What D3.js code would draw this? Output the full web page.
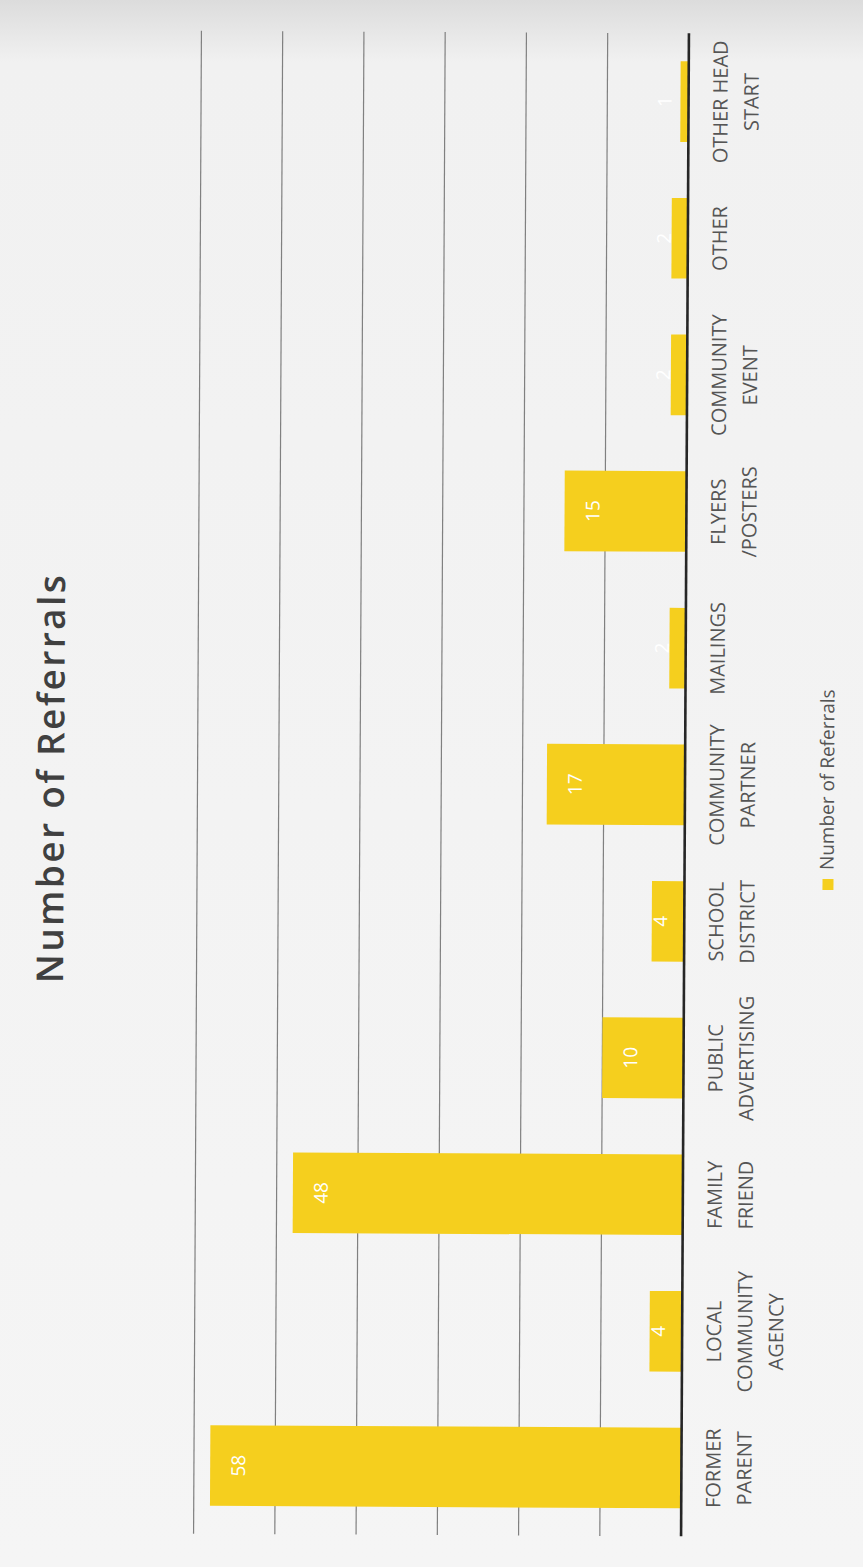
<!DOCTYPE html>
<html>
<head>
<meta charset="utf-8">
<script src="https://cdn.jsdelivr.net/npm/d3@7"></script>
<style>
  body { margin: 0; background: #f4f4f4; }
  svg { display: block; }
</style>
</head>
<body>
<svg width="863" height="1567"></svg>
<script>
// chart data
var categories = [
    ["FORMER", "PARENT"],
    ["LOCAL", "COMMUNITY", "AGENCY"],
    ["FAMILY", "FRIEND"],
    ["PUBLIC", "ADVERTISING"],
    ["SCHOOL", "DISTRICT"],
    ["COMMUNITY", "PARTNER"],
    ["MAILINGS"],
    ["FLYERS", "/POSTERS"],
    ["COMMUNITY", "EVENT"],
    ["OTHER"],
    ["OTHER HEAD", "START"]
];
var referrals = [58, 4, 48, 10, 4, 17, 2, 15, 2, 2, 1];
var yTicks = [0, 10, 20, 30, 40, 50, 60];
var seriesName = "Number of Referrals";
var title = "Number of Referrals";

var svg = d3.select("svg"),
    width = +svg.attr("width"),
    height = +svg.attr("height");

// paper background, a bit darker at the top edge
var defs = svg.append("defs");
var grad = defs.append("linearGradient")
    .attr("id", "paper")
    .attr("x1", 0).attr("y1", 0).attr("x2", 0).attr("y2", 1);
grad.append("stop").attr("offset", "0").attr("stop-color", "#dcdcdc");
grad.append("stop").attr("offset", "0.04").attr("stop-color", "#f1f1f1");
grad.append("stop").attr("offset", "1").attr("stop-color", "#f5f5f5");
svg.append("rect")
    .attr("width", width).attr("height", height)
    .attr("fill", "url(#paper)");

// the chart was scanned sideways: draw it upright, then turn it
var root = svg.append("g")
    .attr("transform", "rotate(0.3," + width / 2 + "," + height / 2 + ") translate(0," + height + ") rotate(-90)");

var keys = categories.map(function(c) { return c.join(" "); });

var x = d3.scaleBand()
    .domain(keys)
    .range([32, 1535])
    .paddingInner(0.41)
    .paddingOuter(0.205);

var y = d3.scaleLinear()
    .domain([0, 60])
    .range([685, 197.5]);

// gridlines
root.append("g")
    .selectAll("line")
    .data(yTicks.filter(function(t) { return t > 0; }))
    .enter().append("line")
    .attr("x1", 32).attr("x2", 1535)
    .attr("y1", function(t) { return y(t); })
    .attr("y2", function(t) { return y(t); })
    .attr("stroke", "#808080")
    .attr("stroke-width", 1.2);

// bars
root.append("g")
    .selectAll("rect")
    .data(referrals)
    .enter().append("rect")
    .attr("x", function(d, i) { return x(keys[i]); })
    .attr("y", function(d) { return y(d); })
    .attr("width", x.bandwidth())
    .attr("height", function(d) { return y(0) - y(d); })
    .attr("fill", "#f5cf1e");

// baseline
root.append("line")
    .attr("x1", 32).attr("x2", 1535)
    .attr("y1", y(0)).attr("y2", y(0))
    .attr("stroke", "#262626")
    .attr("stroke-width", 2.6);

// value labels, inside end
root.append("g")
    .selectAll("text")
    .data(referrals)
    .enter().append("text")
    .attr("x", function(d, i) { return x(keys[i]) + x.bandwidth() / 2; })
    .attr("y", function(d) { return Math.min(y(d) + 28, y(0) - 24) + 7; })
    .attr("text-anchor", "middle")
    .attr("font-family", "'Open Sans', sans-serif")
    .attr("font-size", 19)
    .attr("fill", "#ffffff")
    .text(function(d) { return d; });

// category labels
var cat = root.append("g")
    .selectAll("text")
    .data(categories)
    .enter().append("text")
    .attr("text-anchor", "middle")
    .attr("font-family", "'Open Sans', sans-serif")
    .attr("font-size", 20)
    .attr("fill", "#555555");

cat.each(function(lines, i) {
    var cx = x(keys[i]) + x.bandwidth() / 2;
    d3.select(this).selectAll("tspan")
        .data(lines)
        .enter().append("tspan")
        .attr("x", cx)
        .attr("y", function(l, j) { return 724 + j * 31; })
        .text(function(l) { return l; });
});

// title
root.append("text")
    .attr("x", 787)
    .attr("y", 64)
    .attr("text-anchor", "middle")
    .attr("font-family", "'Open Sans', sans-serif")
    .attr("font-size", 37)
    .attr("font-weight", 600)
    .attr("letter-spacing", 2.4)
    .attr("fill", "#404040")
    .text(title);

// legend
var legend = root.append("g");
legend.append("rect")
    .attr("x", 679).attr("y", 823)
    .attr("width", 11).attr("height", 11)
    .attr("fill", "#f5cf1e");
legend.append("text")
    .attr("x", 699).attr("y", 834)
    .attr("font-family", "'Open Sans', sans-serif")
    .attr("font-size", 19)
    .attr("fill", "#555555")
    .text(seriesName);
</script>
</body>
</html>
